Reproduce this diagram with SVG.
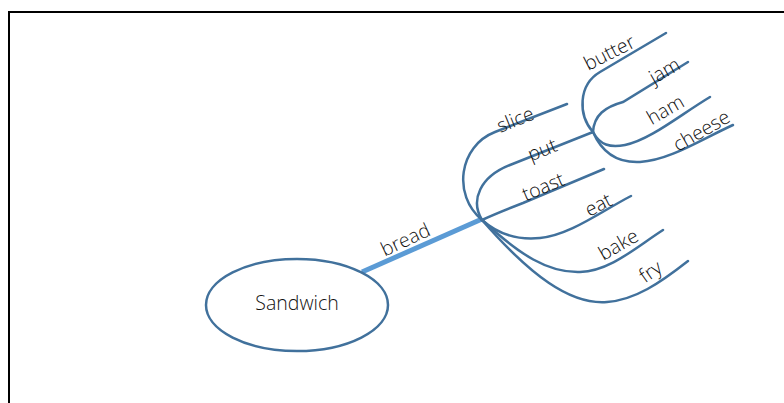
<svg xmlns="http://www.w3.org/2000/svg" width="784" height="403" viewBox="0 0 784 403">
<style>
.br{fill:none;stroke:#41719c;stroke-width:2.5;stroke-linecap:round}
.lb{font-family:"Open Sans","Noto Sans",sans-serif;font-weight:300;font-size:19.5px;fill:#111;text-anchor:middle;dominant-baseline:central}
</style>
<rect width="784" height="403" fill="#fff"/>
<path d="M9,403 V12 H784" fill="none" stroke="#000" stroke-width="2"/>
<g id="connectors">
<path d="M362,272 L482,219" fill="none" stroke="#5b9bd5" stroke-width="5"/>
<path class="br" d="M482,220 C452,195 459,146 495,132 L567,104"/>
<path class="br" d="M482,220 C470,200 480,177 510,165 L593,132"/>
<path class="br" d="M482,220 C495,214 505,210 523,203 L604,169"/>
<path class="br" d="M482,220 C500,236 520,240 540,238 C570,235 600,212 631,196"/>
<path class="br" d="M482,220 C520,255 548,273 580,272 C610,271 635,248 663,230"/>
<path class="br" d="M482,220 C530,275 570,305 607,302 C635,300 660,283 688,261"/>
<path class="br" d="M593,132 C578,115 578,85 600,72 L666,33"/>
<path class="br" d="M593,132 C594,115 605,107 623,102 L688,62"/>
<path class="br" d="M593,132 C600,145 610,148 625,145 C650,140 680,115 710,97"/>
<path class="br" d="M593,132 C603,155 620,163 640,162 C670,160 700,140 733,125"/>
</g>
<g id="sandwich">
<ellipse cx="297" cy="305" rx="91" ry="46" fill="#fff" stroke="#41719c" stroke-width="2.5"/>
<text class="lb" x="297" y="302" font-size="20">Sandwich</text>
</g>
<g id="bread"><text class="lb" transform="translate(405,239) rotate(-25)">bread</text></g>
<g id="slice"><text class="lb" transform="translate(515,119) rotate(-22)">slice</text></g>
<g id="put"><text class="lb" transform="translate(542,149) rotate(-22)">put</text></g>
<g id="toast"><text class="lb" transform="translate(543,186) rotate(-23)">toast</text></g>
<g id="eat"><text class="lb" transform="translate(598,204) rotate(-27)">eat</text></g>
<g id="bake"><text class="lb" transform="translate(618,244) rotate(-30)">bake</text></g>
<g id="fry"><text class="lb" transform="translate(650,271) rotate(-35)">fry</text></g>
<g id="butter"><text class="lb" transform="translate(609,52) rotate(-27)">butter</text></g>
<g id="jam"><text class="lb" transform="translate(664,70) rotate(-30)">jam</text></g>
<g id="ham"><text class="lb" transform="translate(665,109) rotate(-30)">ham</text></g>
<g id="cheese"><text class="lb" transform="translate(701,130) rotate(-30)">cheese</text></g>
</svg>
